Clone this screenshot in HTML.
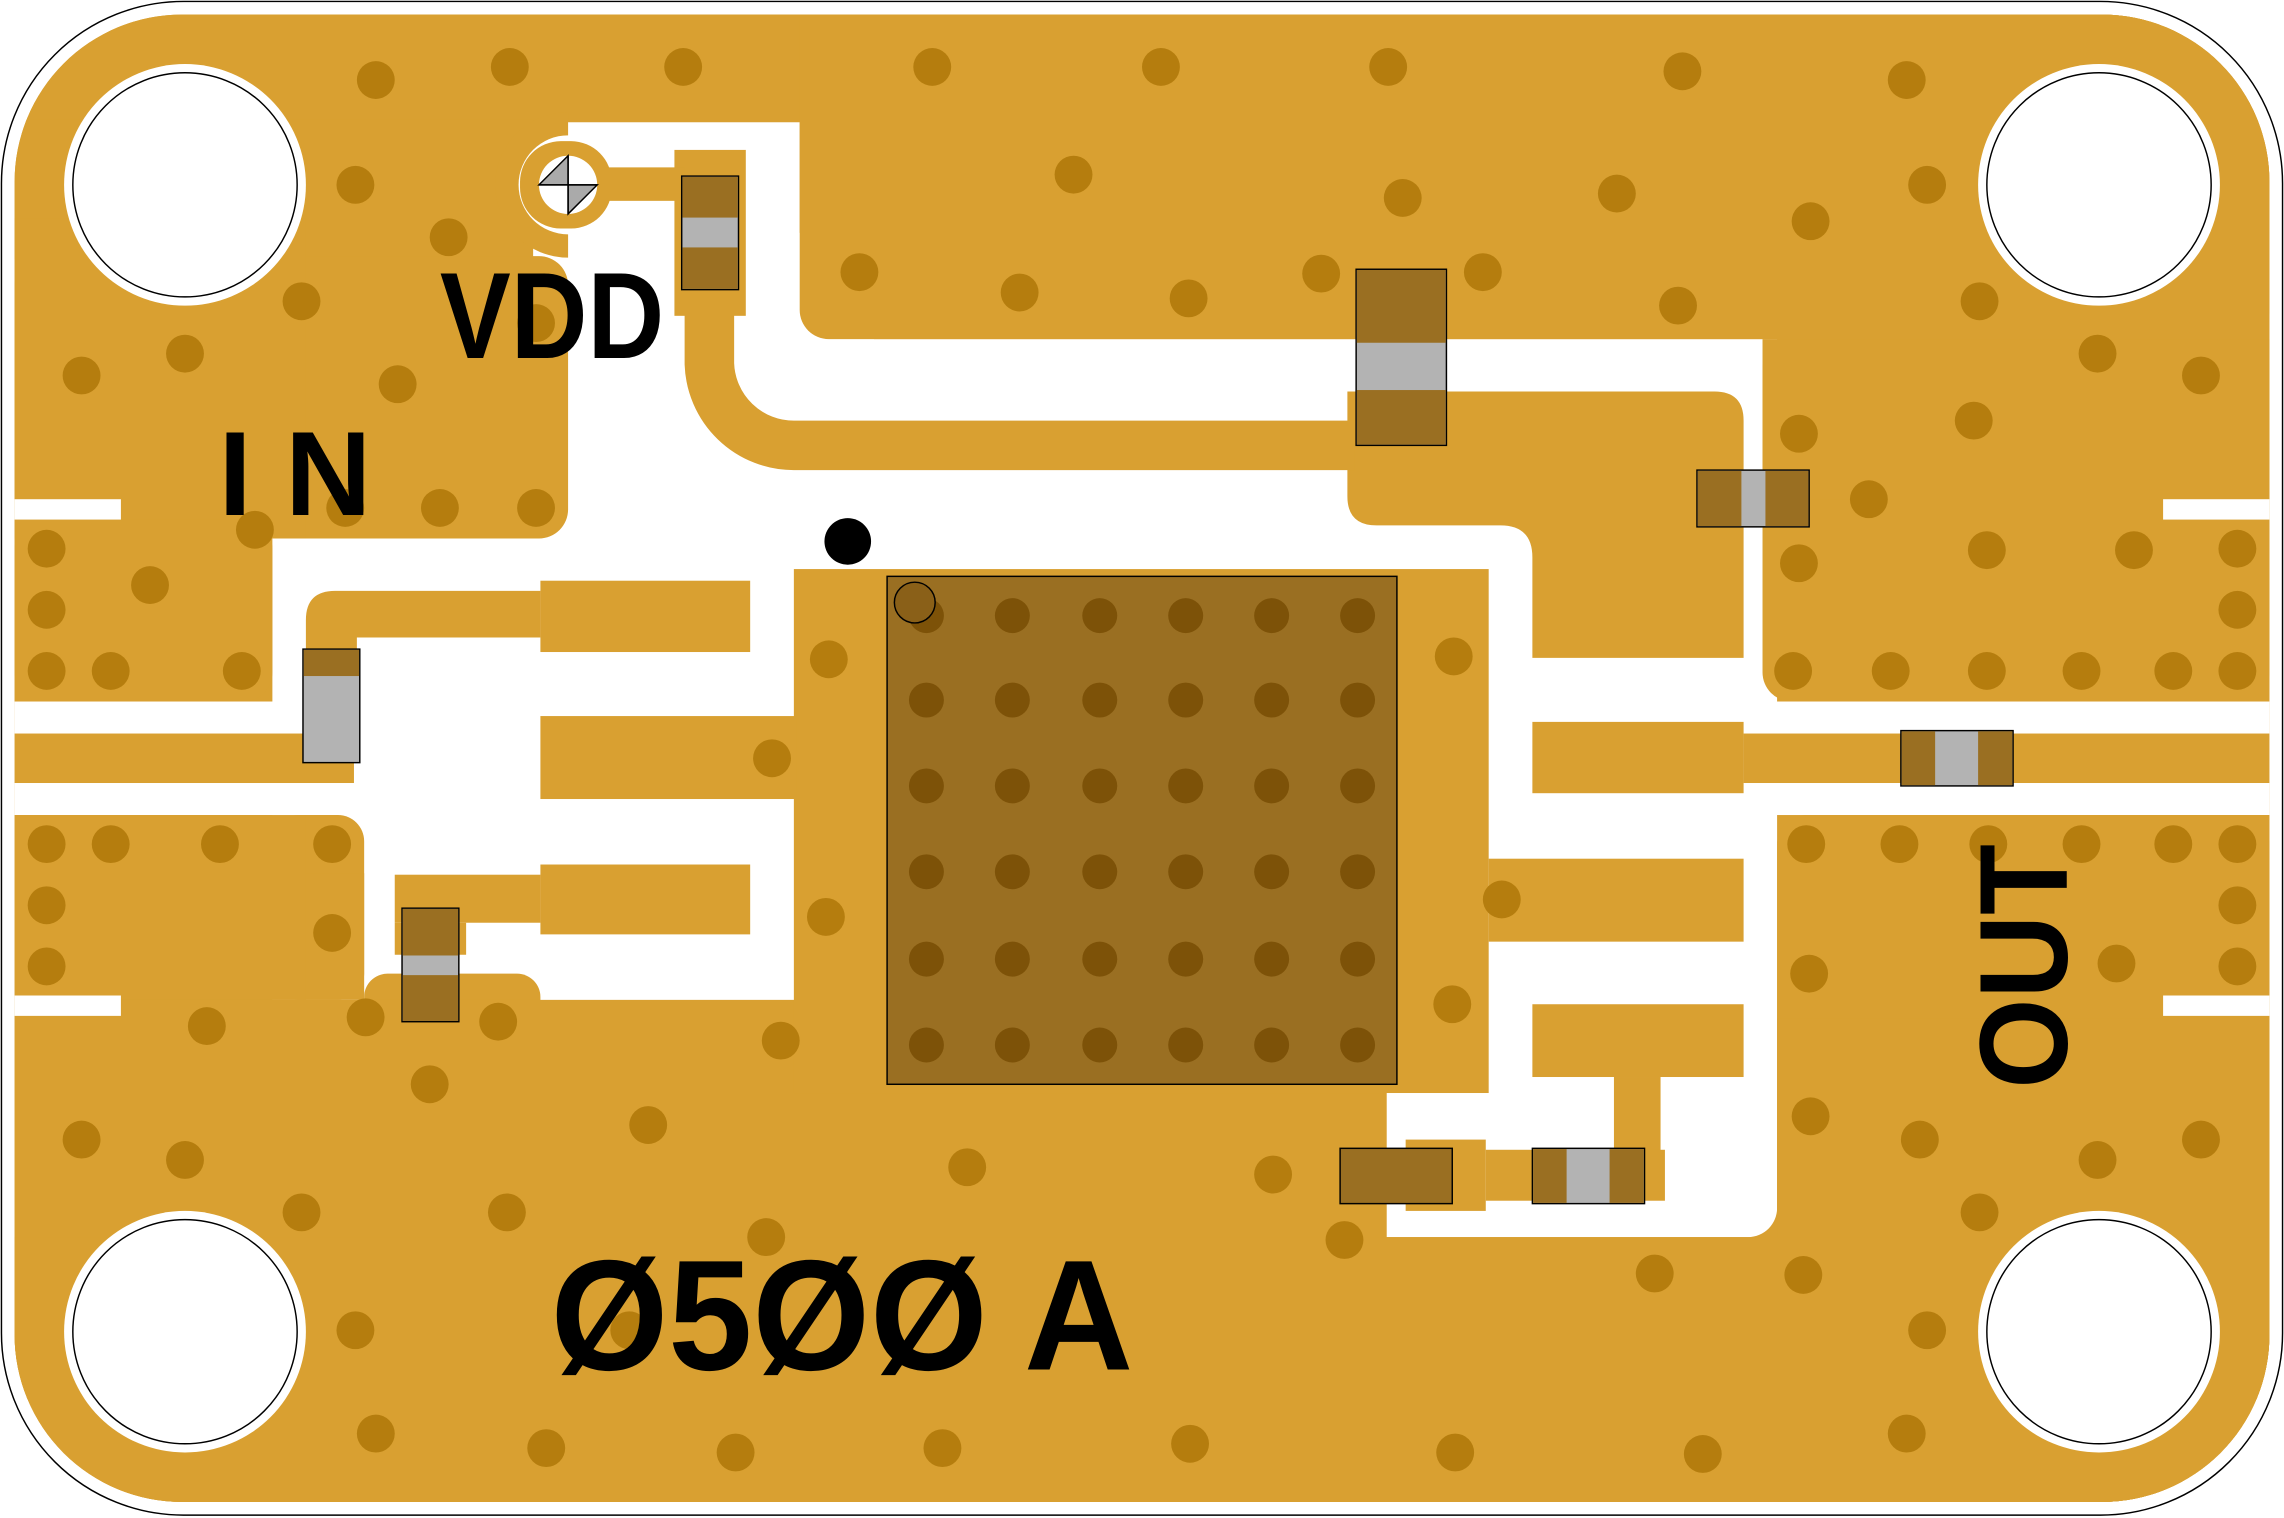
<!DOCTYPE html>
<html><head><meta charset="utf-8"><style>html,body{margin:0;padding:0;background:#fff}svg{display:block}</style></head>
<body>
<svg width="2284" height="1518" viewBox="0 0 1568 1043" preserveAspectRatio="none" xmlns="http://www.w3.org/2000/svg">
<defs><clipPath id="b"><rect x="10" y="10" width="1548" height="1022" rx="115"/></clipPath></defs>
<rect x="1" y="1" width="1566" height="1040" rx="125" fill="#fff" stroke="#000" stroke-width="1"/>
<g clip-path="url(#b)">
<rect x="10" y="10" width="1548" height="1022" fill="#D9A031"/>
<g fill="#fff">
<rect x="187" y="83" width="1033" height="767" rx="20"/>
<rect x="10" y="482" width="240" height="78"/>
<rect x="1197" y="482" width="361" height="78"/>
</g>
<g fill="#D9A031">
<rect x="10" y="10" width="1548" height="74"/>
<rect x="10" y="82" width="356" height="96"/>
<path d="M390,77 A50,50 0 0 0 390,177 Z"/>
<rect x="10" y="176" width="380" height="194" rx="20"/>
<rect x="10" y="150" width="200" height="220"/>
<rect x="10" y="357" width="177" height="125" rx="20"/>
<rect x="10" y="357" width="150" height="125"/>
<rect x="549" y="10" width="1009" height="223" rx="20"/>
<rect x="600" y="10" width="958" height="223"/>
<rect x="549" y="10" width="100" height="150"/>
<rect x="1210" y="233" width="348" height="249" rx="20"/>
<rect x="1210" y="233" width="348" height="110"/>
<rect x="1300" y="233" width="258" height="249"/>
<rect x="1220" y="560" width="338" height="472" rx="20"/>
<rect x="1300" y="560" width="258" height="472"/>
<rect x="1220" y="700" width="338" height="332"/>
<rect x="187" y="560" width="63" height="127" rx="18"/>
<rect x="187" y="600" width="63" height="87"/>
<rect x="250" y="669" width="121" height="40" rx="16"/>
<rect x="10" y="687" width="942" height="345"/>
<rect x="545" y="391" width="477" height="360"/>
<rect x="10" y="850" width="1548" height="182"/>
<rect x="10" y="560" width="200" height="127"/>
<rect x="1197" y="504" width="363" height="34"/>
<rect x="8" y="504" width="235" height="34"/>
<rect x="1052" y="496" width="145" height="49"/>
<rect x="1022" y="590" width="175" height="57"/>
<rect x="1052" y="690" width="145" height="50"/>
<rect x="1108" y="740" width="32" height="52"/>
<rect x="965" y="783" width="55" height="49"/>
<rect x="1020" y="790" width="123" height="35"/>
<rect x="371" y="399" width="144" height="49"/>
<path d="M371,406 H230 Q210,406 210,426 V448 H245 V438 H371 Z"/>
<rect x="371" y="492" width="176" height="57"/>
<rect x="371" y="594" width="144" height="48"/>
<rect x="271" y="601" width="100" height="33"/>
<rect x="271" y="634" width="49" height="22"/>
<path d="M925,269 H1177 Q1197,269 1197,289 V452 H1052 V383 Q1052,361 1030,361 H945 Q925,361 925,341 Z"/>
<path d="M487,215 V250 A58,58 0 0 0 545,306 H930" fill="none" stroke="#D9A031" stroke-width="34"/>
<rect x="463" y="103" width="49" height="114"/>
</g>
<g fill="#fff">
<rect x="10" y="343" width="73" height="14"/>
<rect x="10" y="684" width="73" height="14"/>
<rect x="1485" y="343" width="73" height="14"/>
<rect x="1485" y="684" width="73" height="14"/>
</g>
</g>
<circle cx="390" cy="127" r="34" fill="#fff"/>
<rect x="357" y="97" width="63" height="60" rx="28" fill="#D9A031"/>
<rect x="415" y="115" width="55" height="23" fill="#D9A031"/>
<circle cx="390" cy="127" r="20" fill="#fff"/>
<path d="M370,127 L390,107 V127 Z M410,127 L390,147 V127 Z" fill="#aaa" stroke="#000" stroke-width="1"/>
<path d="M370,127 H410 M390,107 V147" stroke="#000" stroke-width="1"/>
<g fill="#B57D0E">
<circle cx="258" cy="55" r="13"/><circle cx="350" cy="46" r="13"/><circle cx="469" cy="46" r="13"/><circle cx="640" cy="46" r="13"/><circle cx="797" cy="46" r="13"/><circle cx="953" cy="46" r="13"/><circle cx="1155" cy="49" r="13"/><circle cx="1309" cy="55" r="13"/>
<circle cx="737" cy="120" r="13"/><circle cx="963" cy="136" r="13"/><circle cx="1110" cy="133" r="13"/><circle cx="1243" cy="152" r="13"/><circle cx="1323" cy="127" r="13"/>
<circle cx="244" cy="127" r="13"/><circle cx="308" cy="163" r="13"/><circle cx="207" cy="207" r="13"/><circle cx="590" cy="187" r="13"/><circle cx="700" cy="201" r="13"/><circle cx="816" cy="205" r="13"/><circle cx="907" cy="188" r="13"/><circle cx="1018" cy="187" r="13"/><circle cx="1152" cy="210" r="13"/><circle cx="1359" cy="207" r="13"/><circle cx="368" cy="222" r="13"/>
<circle cx="56" cy="258" r="13"/><circle cx="127" cy="243" r="13"/><circle cx="273" cy="264" r="13"/><circle cx="1440" cy="243" r="13"/><circle cx="1511" cy="258" r="13"/>
<circle cx="1235" cy="298" r="13"/><circle cx="1355" cy="289" r="13"/><circle cx="1283" cy="343" r="13"/>
<circle cx="302" cy="349" r="13"/><circle cx="368" cy="349" r="13"/><circle cx="237" cy="349" r="13"/><circle cx="175" cy="364" r="13"/><circle cx="32" cy="377" r="13"/><circle cx="103" cy="402" r="13"/><circle cx="32" cy="419" r="13"/><circle cx="32" cy="461" r="13"/><circle cx="76" cy="461" r="13"/><circle cx="166" cy="461" r="13"/>
<circle cx="1235" cy="387" r="13"/><circle cx="1364" cy="378" r="13"/><circle cx="1465" cy="378" r="13"/><circle cx="1536" cy="377" r="13"/><circle cx="1536" cy="419" r="13"/><circle cx="1231" cy="461" r="13"/><circle cx="1298" cy="461" r="13"/><circle cx="1364" cy="461" r="13"/><circle cx="1429" cy="461" r="13"/><circle cx="1492" cy="461" r="13"/><circle cx="1536" cy="461" r="13"/>
<circle cx="569" cy="453" r="13"/><circle cx="998" cy="451" r="13"/><circle cx="530" cy="521" r="13"/><circle cx="567" cy="630" r="13"/><circle cx="1031" cy="618" r="13"/><circle cx="536" cy="715" r="13"/><circle cx="997" cy="690" r="13"/>
<circle cx="32" cy="580" r="13"/><circle cx="76" cy="580" r="13"/><circle cx="151" cy="580" r="13"/><circle cx="228" cy="580" r="13"/><circle cx="32" cy="622" r="13"/><circle cx="32" cy="664" r="13"/><circle cx="228" cy="641" r="13"/><circle cx="142" cy="705" r="13"/><circle cx="251" cy="699" r="13"/><circle cx="342" cy="702" r="13"/><circle cx="295" cy="745" r="13"/>
<circle cx="1240" cy="580" r="13"/><circle cx="1304" cy="580" r="13"/><circle cx="1365" cy="580" r="13"/><circle cx="1429" cy="580" r="13"/><circle cx="1492" cy="580" r="13"/><circle cx="1536" cy="580" r="13"/><circle cx="1536" cy="622" r="13"/><circle cx="1536" cy="664" r="13"/><circle cx="1242" cy="669" r="13"/><circle cx="1453" cy="662" r="13"/>
<circle cx="56" cy="783" r="13"/><circle cx="127" cy="797" r="13"/><circle cx="445" cy="773" r="13"/><circle cx="664" cy="802" r="13"/><circle cx="207" cy="833" r="13"/><circle cx="348" cy="833" r="13"/><circle cx="526" cy="850" r="13"/><circle cx="874" cy="807" r="13"/><circle cx="923" cy="852" r="13"/><circle cx="1243" cy="767" r="13"/><circle cx="1318" cy="783" r="13"/><circle cx="1440" cy="797" r="13"/><circle cx="1511" cy="783" r="13"/><circle cx="1359" cy="833" r="13"/><circle cx="1136" cy="875" r="13"/><circle cx="1238" cy="876" r="13"/>
<circle cx="244" cy="914" r="13"/><circle cx="432" cy="914" r="13"/><circle cx="1323" cy="914" r="13"/>
<circle cx="258" cy="985" r="13"/><circle cx="375" cy="995" r="13"/><circle cx="505" cy="998" r="13"/><circle cx="647" cy="995" r="13"/><circle cx="817" cy="992" r="13"/><circle cx="999" cy="998" r="13"/><circle cx="1169" cy="999" r="13"/><circle cx="1309" cy="985" r="13"/>
</g>
<rect x="609" y="396" width="350" height="349" fill="#9A6F22" stroke="#000" stroke-width="1"/>
<g fill="#7D5208">
<circle cx="636" cy="423" r="12"/><circle cx="695" cy="423" r="12"/><circle cx="755" cy="423" r="12"/><circle cx="814" cy="423" r="12"/><circle cx="873" cy="423" r="12"/><circle cx="932" cy="423" r="12"/>
<circle cx="636" cy="481" r="12"/><circle cx="695" cy="481" r="12"/><circle cx="755" cy="481" r="12"/><circle cx="814" cy="481" r="12"/><circle cx="873" cy="481" r="12"/><circle cx="932" cy="481" r="12"/>
<circle cx="636" cy="540" r="12"/><circle cx="695" cy="540" r="12"/><circle cx="755" cy="540" r="12"/><circle cx="814" cy="540" r="12"/><circle cx="873" cy="540" r="12"/><circle cx="932" cy="540" r="12"/>
<circle cx="636" cy="599" r="12"/><circle cx="695" cy="599" r="12"/><circle cx="755" cy="599" r="12"/><circle cx="814" cy="599" r="12"/><circle cx="873" cy="599" r="12"/><circle cx="932" cy="599" r="12"/>
<circle cx="636" cy="659" r="12"/><circle cx="695" cy="659" r="12"/><circle cx="755" cy="659" r="12"/><circle cx="814" cy="659" r="12"/><circle cx="873" cy="659" r="12"/><circle cx="932" cy="659" r="12"/>
<circle cx="636" cy="718" r="12"/><circle cx="695" cy="718" r="12"/><circle cx="755" cy="718" r="12"/><circle cx="814" cy="718" r="12"/><circle cx="873" cy="718" r="12"/><circle cx="932" cy="718" r="12"/>
</g>
<circle cx="628" cy="414" r="14" fill="#8A6018" stroke="#000" stroke-width="1"/>
<circle cx="582" cy="372" r="16" fill="#000"/>
<g stroke="#000" stroke-width="1">
<rect x="468" y="121" width="39" height="78" fill="#B3B3B3"/>
<rect x="931" y="185" width="62" height="121" fill="#B3B3B3"/>
<rect x="1165" y="323" width="77" height="39" fill="#B3B3B3"/>
<rect x="208" y="446" width="39" height="78" fill="#B3B3B3"/>
<rect x="1305" y="502" width="77" height="38" fill="#B3B3B3"/>
<rect x="276" y="624" width="39" height="78" fill="#B3B3B3"/>
<rect x="920" y="789" width="77" height="38" fill="#9A6F22"/>
<rect x="1052" y="789" width="77" height="38" fill="#B3B3B3"/>
</g>
<g fill="#9A6F22">
<rect x="468.5" y="121.5" width="38" height="28"/><rect x="468.5" y="170" width="38" height="28.5"/>
<rect x="931.5" y="185.5" width="61" height="50"/><rect x="931.5" y="268" width="61" height="37.5"/>
<rect x="1165.5" y="323.5" width="30" height="38"/><rect x="1212" y="323.5" width="29.5" height="38"/>
<rect x="208.5" y="446.5" width="38" height="18"/>
<rect x="1305.5" y="502.5" width="23" height="37"/><rect x="1358" y="502.5" width="23.5" height="37"/>
<rect x="276.5" y="624.5" width="38" height="32"/><rect x="276.5" y="670" width="38" height="31.5"/>
<rect x="1052.5" y="789.5" width="23" height="37"/><rect x="1105" y="789.5" width="23.5" height="37"/>
</g>
<g>
<circle cx="127" cy="127" r="83" fill="#fff"/><circle cx="127" cy="127" r="77" fill="#fff" stroke="#000"/>
<circle cx="1441" cy="127" r="83" fill="#fff"/><circle cx="1441" cy="127" r="77" fill="#fff" stroke="#000"/>
<circle cx="127" cy="915" r="83" fill="#fff"/><circle cx="127" cy="915" r="77" fill="#fff" stroke="#000"/>
<circle cx="1441" cy="915" r="83" fill="#fff"/><circle cx="1441" cy="915" r="77" fill="#fff" stroke="#000"/>
</g>
<g font-family="Liberation Sans, sans-serif" font-weight="bold" fill="#000">
<text x="302" y="246" font-size="84" textLength="154" lengthAdjust="spacingAndGlyphs">VDD</text>
<text x="150" y="354" font-size="82" textLength="105" lengthAdjust="spacing">IN</text>
<text x="378" y="941" font-size="108" textLength="400" lengthAdjust="spacingAndGlyphs">Ø5ØØ A</text>
<text transform="translate(1419,748) rotate(-90)" font-size="86" textLength="168" lengthAdjust="spacingAndGlyphs">OUT</text>
</g>
</svg>
</body></html>
